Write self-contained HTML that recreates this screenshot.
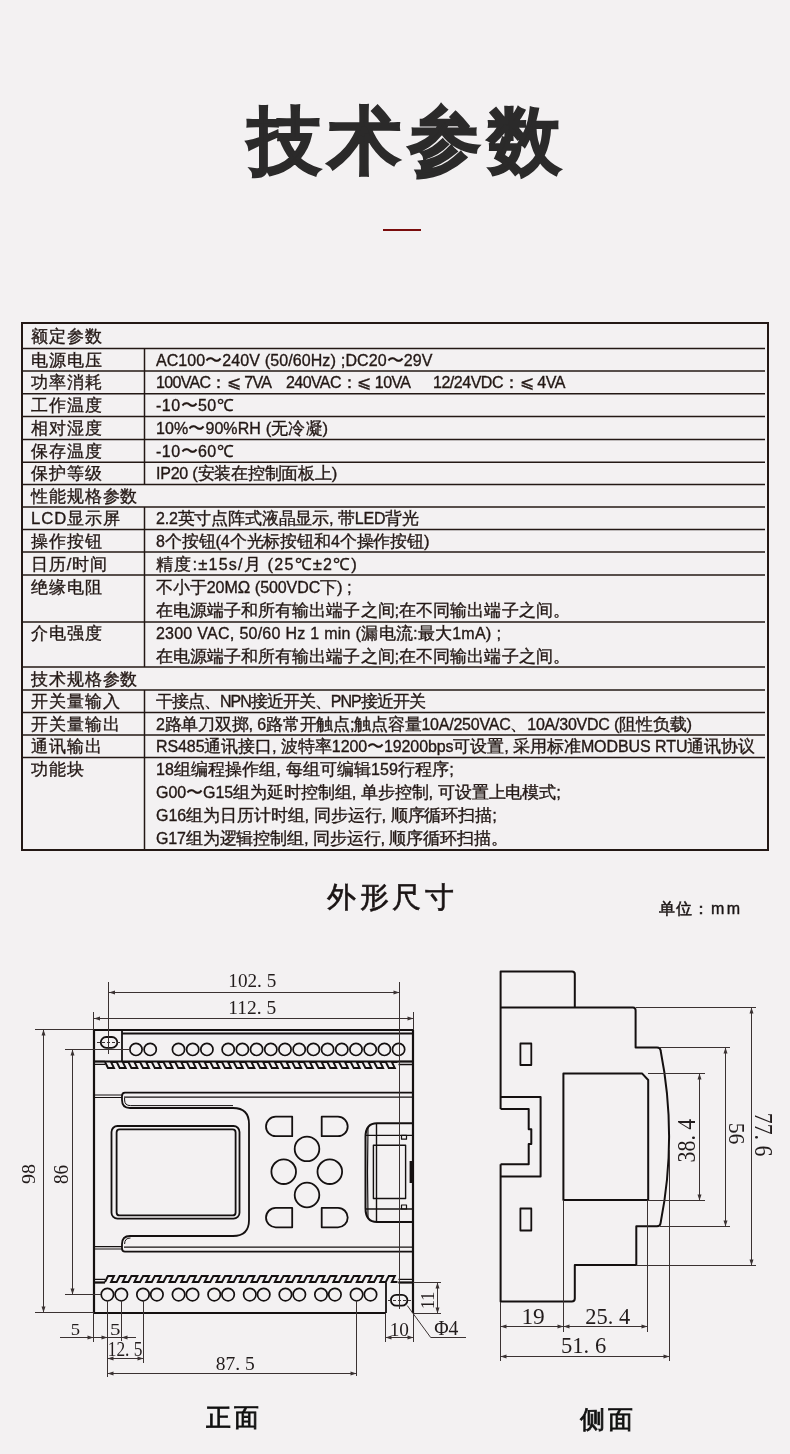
<!DOCTYPE html>
<html><head><meta charset="utf-8">
<style>
html,body{margin:0;padding:0;}
body{will-change:transform;width:790px;height:1454px;background:#f3f1f2;position:relative;overflow:hidden;font-family:"Liberation Sans",sans-serif;color:#231815;}
.a{position:absolute;white-space:nowrap;}
.l{font-size:16px;}
.t{position:absolute;white-space:nowrap;font-size:16.7px;line-height:23px;height:23px;-webkit-text-stroke:0.35px #231815;}
</style></head><body>

<div class="a" style="left:248px;top:91px;font-size:73px;line-height:100px;font-weight:700;color:#2b2a2a;letter-spacing:7px;-webkit-text-stroke:1.8px #2b2a2a">技术参数</div>
<div class="a" style="left:383px;top:229px;width:38px;height:2px;background:#7a0c0c"></div>
<div class="t" style="left:31px;letter-spacing:0.9px;top:324.8px">额定参数</div>
<div class="t" style="left:31px;letter-spacing:0.9px;top:348.8px">电源电压</div>
<div class="t" id="s1_0_0" style="left:156px;top:348.8px;letter-spacing:0.069px"><span class="l">AC100</span>〜<span class="l">240V</span> (<span class="l">50/60Hz</span>) ;<span class="l">DC20</span>〜<span class="l">29V</span></div>
<div class="t" style="left:31px;letter-spacing:0.9px;top:371.4px">功率消耗</div>
<div class="t" id="s2_0_0" style="left:156px;top:371.4px;letter-spacing:-0.655px"><span class="l">100VAC</span>：⩽ <span class="l">7VA</span></div>
<div class="t" id="s2_0_1" style="left:286px;top:371.4px;letter-spacing:-0.583px"><span class="l">240VAC</span>：⩽ <span class="l">10VA</span></div>
<div class="t" id="s2_0_2" style="left:433px;top:371.4px;letter-spacing:-0.477px"><span class="l">12/24VDC</span>：⩽ <span class="l">4VA</span></div>
<div class="t" style="left:31px;letter-spacing:0.9px;top:394.1px">工作温度</div>
<div class="t" id="s3_0_0" style="left:156px;top:394.1px;letter-spacing:0.467px"><span class="l">-10</span>〜<span class="l">50</span>℃</div>
<div class="t" style="left:31px;letter-spacing:0.9px;top:417.0px">相对湿度</div>
<div class="t" id="s4_0_0" style="left:156px;top:417.0px;letter-spacing:0.086px"><span class="l">10%</span>〜<span class="l">90%RH</span> (无冷凝)</div>
<div class="t" style="left:31px;letter-spacing:0.9px;top:439.9px">保存温度</div>
<div class="t" id="s5_0_0" style="left:156px;top:439.9px;letter-spacing:0.467px"><span class="l">-10</span>〜<span class="l">60</span>℃</div>
<div class="t" style="left:31px;letter-spacing:0.9px;top:462.4px">保护等级</div>
<div class="t" id="s6_0_0" style="left:156px;top:462.4px;letter-spacing:-0.243px"><span class="l">IP20</span> (安装在控制面板上)</div>
<div class="t" style="left:31px;letter-spacing:0.9px;top:484.8px">性能规格参数</div>
<div class="t" style="left:31px;letter-spacing:0.9px;top:507.2px">LCD显示屏</div>
<div class="t" id="s8_0_0" style="left:156px;top:507.2px;letter-spacing:-0.189px"><span class="l">2.2</span>英寸点阵式液晶显示, 带<span class="l">LED</span>背光</div>
<div class="t" style="left:31px;letter-spacing:0.9px;top:529.8px">操作按钮</div>
<div class="t" id="s9_0_0" style="left:156px;top:529.8px;letter-spacing:-0.122px"><span class="l">8</span>个按钮(<span class="l">4</span>个光标按钮和<span class="l">4</span>个操作按钮)</div>
<div class="t" style="left:31px;letter-spacing:0.9px;top:552.5px">日历/时间</div>
<div class="t" id="s10_0_0" style="left:156px;top:552.5px;letter-spacing:1.188px">精度:±<span class="l">15s/</span>月 (<span class="l">25</span>℃±<span class="l">2</span>℃)</div>
<div class="t" style="left:31px;letter-spacing:0.9px;top:575.8px">绝缘电阻</div>
<div class="t" id="s11_0_0" style="left:156px;top:575.8px;letter-spacing:-0.078px">不小于<span class="l">20M</span>Ω (<span class="l">500VDC</span>下) ;</div>
<div class="t" id="s11_1_0" style="left:156px;top:599.2px;letter-spacing:0.042px">在电源端子和所有输出端子之间;在不同输出端子之间。</div>
<div class="t" style="left:31px;letter-spacing:0.9px;top:622.2px">介电强度</div>
<div class="t" id="s12_0_0" style="left:156px;top:622.2px;letter-spacing:0.216px"><span class="l">2300</span> <span class="l">VAC</span>, <span class="l">50/60</span> <span class="l">Hz</span> <span class="l">1</span> <span class="l">min</span> (漏电流:最大<span class="l">1mA</span>) ;</div>
<div class="t" id="s12_1_0" style="left:156px;top:644.8px;letter-spacing:0.042px">在电源端子和所有输出端子之间;在不同输出端子之间。</div>
<div class="t" style="left:31px;letter-spacing:0.9px;top:667.5px">技术规格参数</div>
<div class="t" style="left:31px;letter-spacing:0.9px;top:690.3px">开关量输入</div>
<div class="t" id="s14_0_0" style="left:156px;top:690.3px;letter-spacing:-1.000px">干接点、<span class="l">NPN</span>接近开关、<span class="l">PNP</span>接近开关</div>
<div class="t" style="left:31px;letter-spacing:0.9px;top:712.8px">开关量输出</div>
<div class="t" id="s15_0_0" style="left:156px;top:712.8px;letter-spacing:-0.227px"><span class="l">2</span>路单刀双掷, <span class="l">6</span>路常开触点;触点容量<span class="l">10A/250VAC</span>、<span class="l">10A/30VDC</span> (阻性负载)</div>
<div class="t" style="left:31px;letter-spacing:0.9px;top:735.2px">通讯输出</div>
<div class="t" id="s16_0_0" style="left:156px;top:735.2px;letter-spacing:-0.098px"><span class="l">RS485</span>通讯接口, 波特率<span class="l">1200</span>〜<span class="l">19200bps</span>可设置, 采用标准<span class="l">MODBUS</span> <span class="l">RTU</span>通讯协议</div>
<div class="t" style="left:31px;letter-spacing:0.9px;top:758.1px">功能块</div>
<div class="t" id="s17_0_0" style="left:156px;top:758.1px;letter-spacing:0.067px"><span class="l">18</span>组编程操作组, 每组可编辑<span class="l">159</span>行程序;</div>
<div class="t" id="s17_1_0" style="left:156px;top:781.2px;letter-spacing:-0.062px"><span class="l">G00</span>〜<span class="l">G15</span>组为延时控制组, 单步控制, 可设置上电模式;</div>
<div class="t" id="s17_2_0" style="left:156px;top:804.3px;letter-spacing:-0.067px"><span class="l">G16</span>组为日历计时组, 同步运行, 顺序循环扫描;</div>
<div class="t" id="s17_3_0" style="left:156px;top:827.4px;letter-spacing:-0.133px"><span class="l">G17</span>组为逻辑控制组, 同步运行, 顺序循环扫描。</div>
<svg class="a" style="left:0;top:0" width="790" height="1454" viewBox="0 0 790 1454">
<rect x="22" y="323" width="746" height="527" fill="none" stroke="#231815" stroke-width="2"/>
<line x1="22" y1="348.5" x2="765" y2="348.5" stroke="#231815" stroke-width="1.5"/>
<line x1="22" y1="371" x2="765" y2="371" stroke="#231815" stroke-width="1.5"/>
<line x1="22" y1="393.7" x2="765" y2="393.7" stroke="#231815" stroke-width="1.5"/>
<line x1="22" y1="416.5" x2="765" y2="416.5" stroke="#231815" stroke-width="1.5"/>
<line x1="22" y1="439.5" x2="765" y2="439.5" stroke="#231815" stroke-width="1.5"/>
<line x1="22" y1="462.3" x2="765" y2="462.3" stroke="#231815" stroke-width="1.5"/>
<line x1="22" y1="484.5" x2="765" y2="484.5" stroke="#231815" stroke-width="1.5"/>
<line x1="22" y1="507" x2="765" y2="507" stroke="#231815" stroke-width="1.5"/>
<line x1="22" y1="529.5" x2="765" y2="529.5" stroke="#231815" stroke-width="1.5"/>
<line x1="22" y1="552" x2="765" y2="552" stroke="#231815" stroke-width="1.5"/>
<line x1="22" y1="575" x2="765" y2="575" stroke="#231815" stroke-width="1.5"/>
<line x1="22" y1="622" x2="765" y2="622" stroke="#231815" stroke-width="1.5"/>
<line x1="22" y1="667" x2="765" y2="667" stroke="#231815" stroke-width="1.5"/>
<line x1="22" y1="690" x2="765" y2="690" stroke="#231815" stroke-width="1.5"/>
<line x1="22" y1="712.6" x2="765" y2="712.6" stroke="#231815" stroke-width="1.5"/>
<line x1="22" y1="735" x2="765" y2="735" stroke="#231815" stroke-width="1.5"/>
<line x1="22" y1="757.5" x2="765" y2="757.5" stroke="#231815" stroke-width="1.5"/>
<line x1="144.5" y1="348.5" x2="144.5" y2="371" stroke="#231815" stroke-width="1.5"/>
<line x1="144.5" y1="371" x2="144.5" y2="393.7" stroke="#231815" stroke-width="1.5"/>
<line x1="144.5" y1="393.7" x2="144.5" y2="416.5" stroke="#231815" stroke-width="1.5"/>
<line x1="144.5" y1="416.5" x2="144.5" y2="439.5" stroke="#231815" stroke-width="1.5"/>
<line x1="144.5" y1="439.5" x2="144.5" y2="462.3" stroke="#231815" stroke-width="1.5"/>
<line x1="144.5" y1="462.3" x2="144.5" y2="484.5" stroke="#231815" stroke-width="1.5"/>
<line x1="144.5" y1="507" x2="144.5" y2="529.5" stroke="#231815" stroke-width="1.5"/>
<line x1="144.5" y1="529.5" x2="144.5" y2="552" stroke="#231815" stroke-width="1.5"/>
<line x1="144.5" y1="552" x2="144.5" y2="575" stroke="#231815" stroke-width="1.5"/>
<line x1="144.5" y1="575" x2="144.5" y2="622" stroke="#231815" stroke-width="1.5"/>
<line x1="144.5" y1="622" x2="144.5" y2="667" stroke="#231815" stroke-width="1.5"/>
<line x1="144.5" y1="690" x2="144.5" y2="712.6" stroke="#231815" stroke-width="1.5"/>
<line x1="144.5" y1="712.6" x2="144.5" y2="735" stroke="#231815" stroke-width="1.5"/>
<line x1="144.5" y1="735" x2="144.5" y2="757.5" stroke="#231815" stroke-width="1.5"/>
<line x1="144.5" y1="757.5" x2="144.5" y2="850.0" stroke="#231815" stroke-width="1.5"/>
</svg>
<div class="a" style="left:327px;top:879px;font-size:29px;line-height:36px;font-weight:400;letter-spacing:3.5px;color:#1a1414;-webkit-text-stroke:0.6px #1a1414">外形尺寸</div>
<div class="a" style="left:659px;top:898px;font-size:16px;line-height:22px;font-weight:400;letter-spacing:1px;color:#1a1414;-webkit-text-stroke:0.5px #1a1414">单位：</div>
<div class="a" style="left:711px;top:898px;font-size:16px;line-height:22px;font-weight:400;letter-spacing:2.5px;color:#1a1414;-webkit-text-stroke:0.4px #1a1414">mm</div>
<div class="a" style="left:206px;top:1402px;font-size:24.5px;line-height:32px;font-weight:400;letter-spacing:3px;color:#111;-webkit-text-stroke:0.8px #111">正面</div>
<div class="a" style="left:580px;top:1404px;font-size:24.5px;line-height:32px;font-weight:400;letter-spacing:3px;color:#111;-webkit-text-stroke:0.8px #111">侧面</div>
<svg class="a" style="left:0;top:0" width="790" height="1454" viewBox="0 0 790 1454">
<g fill="none" stroke="#141010" stroke-width="1.8" stroke-linejoin="round">
<path d="M94,1030 H413 V1313 M94,1030 V1313 H386" stroke-width="2.2"/>
<path d="M122,1033.5 H413"/>
<path d="M122,1030 V1061"/>
<path d="M94,1061.5 H413" stroke-width="2"/>
<path d="M94,1061.5 H105 M94,1064.3 H105 M398.5,1061.5 H413 M398.5,1064.5 H413" stroke-width="1.3"/>
<path d="M105.00,1062 L108.00,1068 H114.00 L111.00,1062 H116.70 L119.70,1068 H125.70 L122.70,1062 H128.40 L131.40,1068 H137.40 L134.40,1062 H140.10 L143.10,1068 H149.10 L146.10,1062 H151.80 L154.80,1068 H160.80 L157.80,1062 H163.50 L166.50,1068 H172.50 L169.50,1062 H175.20 L178.20,1068 H184.20 L181.20,1062 H186.90 L189.90,1068 H195.90 L192.90,1062 H198.60 L201.60,1068 H207.60 L204.60,1062 H210.30 L213.30,1068 H219.30 L216.30,1062 H222.00 L225.00,1068 H231.00 L228.00,1062 H233.70 L236.70,1068 H242.70 L239.70,1062 H245.40 L248.40,1068 H254.40 L251.40,1062 H257.10 L260.10,1068 H266.10 L263.10,1062 H268.80 L271.80,1068 H277.80 L274.80,1062 H280.50 L283.50,1068 H289.50 L286.50,1062 H292.20 L295.20,1068 H301.20 L298.20,1062 H303.90 L306.90,1068 H312.90 L309.90,1062 H315.60 L318.60,1068 H324.60 L321.60,1062 H327.30 L330.30,1068 H336.30 L333.30,1062 H339.00 L342.00,1068 H348.00 L345.00,1062 H350.70 L353.70,1068 H359.70 L356.70,1062 H362.40 L365.40,1068 H371.40 L368.40,1062 H374.10 L377.10,1068 H383.10 L380.10,1062 H385.80 L388.80,1068 H394.80 L391.80,1062 H397.50" stroke-width="1.9" stroke-linejoin="miter"/>
<path d="M94,1095 H122 M94,1097.5 H122 M124,1097.2 H413" stroke-width="1.2"/>
<path d="M413,1092.6 H125 Q122,1092.6 122,1096 V1100 Q122,1108 130,1108 H233 Q249,1108 249,1124 V1220 Q249,1236 233,1236 H130 Q122,1236 122,1244 V1248.5 Q122,1251.7 125,1251.7 H413" stroke-width="1.8"/>
<path d="M124.6,1098 V1100 Q124.6,1105.6 130.5,1105.6 H233 M130.5,1238 Q124.6,1238 124.6,1244" stroke-width="1"/>
<path d="M94,1246.6 H122 M94,1249 H122 M124,1247.2 H413" stroke-width="1.2"/>
<rect x="111.5" y="1126" width="128" height="92.7" rx="6"/>
<rect x="116.6" y="1129.4" width="119" height="86" rx="3"/>
<path d="M292.2,1116.7 V1136.2 H275.75 A9.75,9.75 0 0 1 275.75,1116.7 Z"/>
<path d="M321.7,1116.7 V1136.2 H337.95 A9.75,9.75 0 0 0 337.95,1116.7 Z"/>
<path d="M292.2,1207.9 V1227.3 H275.69999999999993 A9.699999999999932,9.699999999999932 0 0 1 275.69999999999993,1207.9 Z"/>
<path d="M321.7,1207.9 V1227.3 H338.00000000000006 A9.699999999999932,9.699999999999932 0 0 0 338.00000000000006,1207.9 Z"/>
<circle cx="307" cy="1148.9" r="12.3"/>
<circle cx="283.7" cy="1171.7" r="12.3"/>
<circle cx="329.8" cy="1171.7" r="12.3"/>
<circle cx="307" cy="1195" r="12.3"/>
<path d="M413,1123.3 H377 Q365.5,1123.3 365.5,1137 V1208 Q365.5,1222 377,1222 H413" stroke-width="2"/>
<path d="M368,1127 Q367,1172 368,1218" stroke-width="1.2"/>
<path d="M376.5,1123.3 V1222 M366,1135.4 H413 M366,1209 H413" stroke-width="1.4"/>
<rect x="373.4" y="1145.3" width="32.2" height="53.2" stroke-width="1.4"/>
<rect x="401.5" y="1135.4" width="5" height="3.8" stroke-width="1.2"/>
<rect x="401.5" y="1205" width="5" height="4" stroke-width="1.2"/>
</g>
<rect x="409.6" y="1161" width="3.6" height="22" fill="#141010"/>
<g fill="none" stroke="#141010" stroke-width="1.7">
<circle cx="136.0" cy="1049.4" r="6.1"/>
<circle cx="150.2" cy="1049.4" r="6.1"/>
<circle cx="178.5" cy="1049.4" r="6.1"/>
<circle cx="192.7" cy="1049.4" r="6.1"/>
<circle cx="206.9" cy="1049.4" r="6.1"/>
<circle cx="228.2" cy="1049.4" r="6.1"/>
<circle cx="242.4" cy="1049.4" r="6.1"/>
<circle cx="256.6" cy="1049.4" r="6.1"/>
<circle cx="270.8" cy="1049.4" r="6.1"/>
<circle cx="285.0" cy="1049.4" r="6.1"/>
<circle cx="299.2" cy="1049.4" r="6.1"/>
<circle cx="313.4" cy="1049.4" r="6.1"/>
<circle cx="327.6" cy="1049.4" r="6.1"/>
<circle cx="341.8" cy="1049.4" r="6.1"/>
<circle cx="356.0" cy="1049.4" r="6.1"/>
<circle cx="370.2" cy="1049.4" r="6.1"/>
<circle cx="384.4" cy="1049.4" r="6.1"/>
<circle cx="398.6" cy="1049.4" r="6.1"/>
<circle cx="107.4" cy="1294.6" r="6.2"/>
<circle cx="121.3" cy="1294.6" r="6.2"/>
<circle cx="143.0" cy="1294.6" r="6.2"/>
<circle cx="156.9" cy="1294.6" r="6.2"/>
<circle cx="178.6" cy="1294.6" r="6.2"/>
<circle cx="192.5" cy="1294.6" r="6.2"/>
<circle cx="214.2" cy="1294.6" r="6.2"/>
<circle cx="228.1" cy="1294.6" r="6.2"/>
<circle cx="249.8" cy="1294.6" r="6.2"/>
<circle cx="263.7" cy="1294.6" r="6.2"/>
<circle cx="285.4" cy="1294.6" r="6.2"/>
<circle cx="299.3" cy="1294.6" r="6.2"/>
<circle cx="321.0" cy="1294.6" r="6.2"/>
<circle cx="334.9" cy="1294.6" r="6.2"/>
<circle cx="356.6" cy="1294.6" r="6.2"/>
<circle cx="370.5" cy="1294.6" r="6.2"/>
</g>
<g fill="none" stroke="#141010" stroke-width="1.6">
<path d="M94,1282.5 H105 M94,1279.3 H105 M398.5,1282.5 H413 M398.5,1279.3 H413" stroke-width="1.3"/>
<path d="M94,1282.6 H105 M398.5,1282.6 H413" stroke-width="2"/>
<path d="M105.00,1282 L108.00,1276 H114.00 L111.00,1282 H116.70 L119.70,1276 H125.70 L122.70,1282 H128.40 L131.40,1276 H137.40 L134.40,1282 H140.10 L143.10,1276 H149.10 L146.10,1282 H151.80 L154.80,1276 H160.80 L157.80,1282 H163.50 L166.50,1276 H172.50 L169.50,1282 H175.20 L178.20,1276 H184.20 L181.20,1282 H186.90 L189.90,1276 H195.90 L192.90,1282 H198.60 L201.60,1276 H207.60 L204.60,1282 H210.30 L213.30,1276 H219.30 L216.30,1282 H222.00 L225.00,1276 H231.00 L228.00,1282 H233.70 L236.70,1276 H242.70 L239.70,1282 H245.40 L248.40,1276 H254.40 L251.40,1282 H257.10 L260.10,1276 H266.10 L263.10,1282 H268.80 L271.80,1276 H277.80 L274.80,1282 H280.50 L283.50,1276 H289.50 L286.50,1282 H292.20 L295.20,1276 H301.20 L298.20,1282 H303.90 L306.90,1276 H312.90 L309.90,1282 H315.60 L318.60,1276 H324.60 L321.60,1282 H327.30 L330.30,1276 H336.30 L333.30,1282 H339.00 L342.00,1276 H348.00 L345.00,1282 H350.70 L353.70,1276 H359.70 L356.70,1282 H362.40 L365.40,1276 H371.40 L368.40,1282 H374.10 L377.10,1276 H383.10 L380.10,1282 H385.80 L388.80,1276 H394.80 L391.80,1282 H397.50" stroke-width="1.9" stroke-linejoin="miter"/>
<path d="M386,1282.5 V1313" stroke-width="1.8"/>
<rect x="100.8" y="1037" width="16.5" height="10.8" rx="5.4" stroke-width="1.8"/>
<rect x="390.9" y="1294.8" width="16.5" height="10.8" rx="5.4" stroke-width="1.8"/>
</g>
<g fill="none" stroke="#3a3232" stroke-width="1" shape-rendering="crispEdges">
<path d="M108.5,982 V1054 M399.5,982 V1309 M93.5,1012 V1030 M413.5,1012 V1030"/>
<path d="M97,1042.5 H121 M388,1300.5 H411" stroke-dasharray="3,2"/>
<path d="M108.5,992.5 H399.5 M93.5,1018.5 H413.5"/>
<path d="M35,1029.5 H94 M35,1312.5 H94 M43.5,1029.5 V1312.5"/>
<path d="M64.5,1049.5 H130 M64.5,1294.5 H101 M72.5,1049.5 V1294.5"/>
<path d="M93.5,1313 V1341.5 M107.5,1300 V1377 M121.5,1300 V1341 M143.5,1300 V1363 M356.5,1300 V1376"/>
<path d="M60,1337.5 H136 M107.5,1358.5 H143.5 M107.5,1373.5 H356.5"/>
<path d="M413,1282.5 H441 M413,1313.5 H441 M437.5,1282.5 V1313.5 M385.5,1313 V1341.5 M413.5,1313 V1341.5 M385.5,1337.5 H413.5"/>
</g>
<path d="M407.3,1305.6 L430.7,1337.5 H466" fill="none" stroke="#3a3232" stroke-width="1"/>
<g>
</g>
<polygon points="109.0,992.5 115.0,990.5 115.0,994.5" fill="#3a3232"/>
<polygon points="399.5,992.5 393.5,990.5 393.5,994.5" fill="#3a3232"/>
<polygon points="94.0,1018.5 100.0,1016.5 100.0,1020.5" fill="#3a3232"/>
<polygon points="413.5,1018.5 407.5,1016.5 407.5,1020.5" fill="#3a3232"/>
<polygon points="43.5,1029.5 41.5,1035.5 45.5,1035.5" fill="#3a3232"/>
<polygon points="43.5,1312.5 41.5,1306.5 45.5,1306.5" fill="#3a3232"/>
<polygon points="72.5,1049.5 70.5,1055.5 74.5,1055.5" fill="#3a3232"/>
<polygon points="72.5,1294.5 70.5,1288.5 74.5,1288.5" fill="#3a3232"/>
<polygon points="93.5,1337.5 87.5,1335.5 87.5,1339.5" fill="#3a3232"/>
<polygon points="107.5,1337.5 101.5,1335.5 101.5,1339.5" fill="#3a3232"/>
<polygon points="121.5,1337.5 127.5,1335.5 127.5,1339.5" fill="#3a3232"/>
<polygon points="107.5,1358.5 113.5,1356.5 113.5,1360.5" fill="#3a3232"/>
<polygon points="143.5,1358.5 137.5,1356.5 137.5,1360.5" fill="#3a3232"/>
<polygon points="107.5,1373.5 113.5,1371.5 113.5,1375.5" fill="#3a3232"/>
<polygon points="356.5,1373.5 350.5,1371.5 350.5,1375.5" fill="#3a3232"/>
<polygon points="437.5,1282.5 435.5,1288.5 439.5,1288.5" fill="#3a3232"/>
<polygon points="437.5,1313.5 435.5,1307.5 439.5,1307.5" fill="#3a3232"/>
<polygon points="385.5,1337.5 391.5,1335.5 391.5,1339.5" fill="#3a3232"/>
<polygon points="413.5,1337.5 407.5,1335.5 407.5,1339.5" fill="#3a3232"/>
<g fill="none" stroke="#141010" stroke-width="2" stroke-linejoin="round">
<path d="M500.6,1109 V971.4 H572 Q574.8,971.4 574.8,974 V1007.6"/>
<path d="M500.6,1007.6 H633 Q635.6,1007.6 635.6,1010.5 V1047.5 H657 Q660.3,1047.5 660.6,1050.5 Q677.6,1136.5 660.6,1223 Q660.3,1226.3 657,1226.3 H636.3 V1265 H574.8 V1298.5 Q574.8,1301.5 571.8,1301.5 H500.6 V1164.2"/>
<path d="M500.6,1097.1 H540.6 V1176.6 H500.6 M500.6,1109 H528.7 V1129.2 H531.3 V1144 H528.7 V1164.2 H500.6"/>
<path d="M563.4,1200 V1073.4 H642 L648.2,1080 V1200 Z"/>
<rect x="520.4" y="1043.5" width="10.9" height="21.5" stroke-width="1.8"/>
<rect x="520.4" y="1208.5" width="10.9" height="22" stroke-width="1.8"/>
</g>
<g fill="none" stroke="#3a3232" stroke-width="1" shape-rendering="crispEdges">
<path d="M635.6,1007.5 H755.5 M660,1047.5 H729.5 M648.2,1073.5 H704.5 M648.2,1200.5 H704.5 M660,1226.5 H729.5 M636.3,1265.5 H755.5"/>
<path d="M751.5,1007.5 V1265.5 M725.5,1047.5 V1226.5 M699.5,1073.5 V1200.5"/>
<path d="M563.5,1200 V1331.5 M647.5,1200 V1331.5 M669.5,1150 V1360.5 M500.5,1301.5 V1360.5"/>
<path d="M500.5,1326.5 H647.5 M500.5,1356.5 H669.5"/>
</g>
<polygon points="751.5,1007.5 749.5,1013.5 753.5,1013.5" fill="#3a3232"/>
<polygon points="751.5,1265.5 749.5,1259.5 753.5,1259.5" fill="#3a3232"/>
<polygon points="725.5,1047.5 723.5,1053.5 727.5,1053.5" fill="#3a3232"/>
<polygon points="725.5,1226.5 723.5,1220.5 727.5,1220.5" fill="#3a3232"/>
<polygon points="699.5,1073.5 697.5,1079.5 701.5,1079.5" fill="#3a3232"/>
<polygon points="699.5,1200.5 697.5,1194.5 701.5,1194.5" fill="#3a3232"/>
<polygon points="500.5,1326.5 506.5,1324.5 506.5,1328.5" fill="#3a3232"/>
<polygon points="563.5,1326.5 557.5,1324.5 557.5,1328.5" fill="#3a3232"/>
<polygon points="563.5,1326.5 569.5,1324.5 569.5,1328.5" fill="#3a3232"/>
<polygon points="647.5,1326.5 641.5,1324.5 641.5,1328.5" fill="#3a3232"/>
<polygon points="500.5,1356.5 506.5,1354.5 506.5,1358.5" fill="#3a3232"/>
<polygon points="669.5,1356.5 663.5,1354.5 663.5,1358.5" fill="#3a3232"/>
<text x="252.30" y="986.80" font-family="Liberation Serif, serif" font-size="17.97" fill="#221c1c" text-anchor="middle" textLength="47.94" lengthAdjust="spacingAndGlyphs">102. 5</text>
<text x="252.30" y="1013.80" font-family="Liberation Serif, serif" font-size="17.97" fill="#221c1c" text-anchor="middle" textLength="47.94" lengthAdjust="spacingAndGlyphs">112. 5</text>
<text x="75.40" y="1335.00" font-family="Liberation Serif, serif" font-size="17.41" fill="#221c1c" text-anchor="middle" textLength="9.30" lengthAdjust="spacingAndGlyphs">5</text>
<text x="115.20" y="1335.00" font-family="Liberation Serif, serif" font-size="17.41" fill="#221c1c" text-anchor="middle" textLength="10.45" lengthAdjust="spacingAndGlyphs">5</text>
<text x="125.10" y="1356.40" font-family="Liberation Serif, serif" font-size="19.94" fill="#221c1c" text-anchor="middle" textLength="34.81" lengthAdjust="spacingAndGlyphs">12. 5</text>
<text x="235.30" y="1370.20" font-family="Liberation Serif, serif" font-size="17.97" fill="#221c1c" text-anchor="middle" textLength="39.04" lengthAdjust="spacingAndGlyphs">87. 5</text>
<text x="399.30" y="1336.20" font-family="Liberation Serif, serif" font-size="17.93" fill="#221c1c" text-anchor="middle" textLength="19.28" lengthAdjust="spacingAndGlyphs">10</text>
<text x="446.30" y="1335.20" font-family="Liberation Serif, serif" font-size="20.33" fill="#221c1c" text-anchor="middle" textLength="24.22" lengthAdjust="spacingAndGlyphs">Φ4</text>
<text x="533.10" y="1324.40" font-family="Liberation Serif, serif" font-size="22.41" fill="#221c1c" text-anchor="middle" textLength="23.36" lengthAdjust="spacingAndGlyphs">19</text>
<text x="607.80" y="1324.40" font-family="Liberation Serif, serif" font-size="22.41" fill="#221c1c" text-anchor="middle" textLength="44.83" lengthAdjust="spacingAndGlyphs">25. 4</text>
<text x="583.60" y="1353.00" font-family="Liberation Serif, serif" font-size="22.41" fill="#221c1c" text-anchor="middle" textLength="45.27" lengthAdjust="spacingAndGlyphs">51. 6</text>
<text x="35.20" y="1174.10" font-family="Liberation Serif, serif" font-size="19.45" fill="#221c1c" text-anchor="middle" textLength="19.98" lengthAdjust="spacingAndGlyphs" transform="rotate(-90 35.20 1174.10)">98</text>
<text x="67.80" y="1174.50" font-family="Liberation Serif, serif" font-size="20.33" fill="#221c1c" text-anchor="middle" textLength="19.14" lengthAdjust="spacingAndGlyphs" transform="rotate(-90 67.80 1174.50)">86</text>
<text x="434.40" y="1300.30" font-family="Liberation Serif, serif" font-size="17.93" fill="#221c1c" text-anchor="middle" textLength="17.27" lengthAdjust="spacingAndGlyphs" transform="rotate(-90 434.40 1300.30)">11</text>
<text x="694.60" y="1140.60" font-family="Liberation Serif, serif" font-size="25.20" fill="#221c1c" text-anchor="middle" textLength="43.66" lengthAdjust="spacingAndGlyphs" transform="rotate(-90 694.60 1140.60)">38. 4</text>
<text x="729.20" y="1133.60" font-family="Liberation Serif, serif" font-size="23.88" fill="#221c1c" text-anchor="middle" textLength="21.78" lengthAdjust="spacingAndGlyphs" transform="rotate(90 729.20 1133.60)">56</text>
<text x="755.20" y="1134.60" font-family="Liberation Serif, serif" font-size="24.51" fill="#221c1c" text-anchor="middle" textLength="43.68" lengthAdjust="spacingAndGlyphs" transform="rotate(90 755.20 1134.60)">77. 6</text>
</svg>
</body></html>
